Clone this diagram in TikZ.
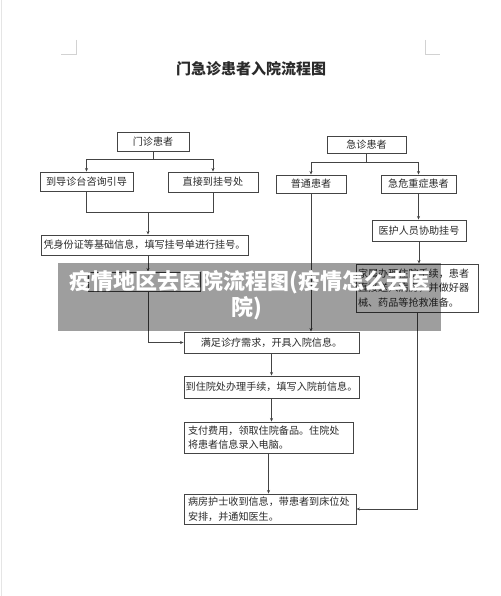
\documentclass[tikz,border=0pt]{standalone}
\usepackage{fontspec}
\setmainfont{Noto Sans CJK SC}
\usetikzlibrary{arrows.meta}
\definecolor{lineC}{HTML}{444444}
\definecolor{txtC}{HTML}{2A2A2A}
\begin{document}
\begin{tikzpicture}[x=1pt,y=-1pt,
  flowbox/.style={draw=lineC, line width=0.9pt, fill=white, text=txtC, inner sep=0pt,
    font=\fontsize{10.1}{14.5}\selectfont},
  arr/.style={draw=lineC, line width=0.8pt, -{Stealth[length=3.5pt,width=3pt]}},
  ln/.style={draw=lineC, line width=0.8pt}]
\useasboundingbox (0,0) rectangle (500,596);
\fill[white] (0,0) rectangle (500,596);
\draw[gray!20, line width=1pt] (1,0) -- (1,596);
% corner marks
\draw[gray!35, line width=0.8pt] (76,40) -- (76,54) -- (61,54);
\draw[gray!35, line width=0.8pt] (425,40) -- (425,54) -- (440,54);
% title
\node[text=txtC, font=\fontsize{15}{15}\selectfont\bfseries] (title) at (251,69) {门急诊患者入院流程图};
% boxes
\node[flowbox, minimum width=72, minimum height=19] (mz) at (153,141.5) {门诊患者};
\node[flowbox, minimum width=93, minimum height=19] (dz) at (86.5,181.5) {到导诊台咨询引导};
\node[flowbox, minimum width=90, minimum height=20] (zj) at (213,182) {直接到挂号处};
\node[flowbox, minimum width=207, minimum height=20] (pz) at (144.5,245) {凭身份证等基础信息，填写挂号单进行挂号。};
\node[flowbox, minimum width=112, minimum height=19] (hb) at (144,281.5) {};
\node[flowbox, minimum width=79, minimum height=17] (jz) at (366.5,144.5) {急诊患者};
\node[flowbox, minimum width=70, minimum height=18] (pt) at (311,184) {普通患者};
\node[flowbox, minimum width=75, minimum height=18] (wz) at (418.5,184) {急危重症患者};
\node[flowbox, minimum width=94, minimum height=21] (yh) at (419,230.5) {医护人员协助挂号};
\node[flowbox, minimum width=122, minimum height=48, text width=118, align=left] (js) at (417,288)
  {家属办理住院手续，患者\\直接送入病房，并做好器\\械、药品等抢救准备。};
\node[flowbox, minimum width=175, minimum height=21] (mq) at (271.5,342.5) {满足诊疗需求，开具入院信息。};
\node[flowbox, minimum width=175, minimum height=22] (zy) at (271.5,387) {到住院处办理手续，填写入院前信息。};
\node[flowbox, minimum width=169, minimum height=31, text width=161, align=left] (zf) at (268.5,437.5)
  {支付费用，领取住院备品。住院处\\将患者信息录入电脑。};
\node[flowbox, minimum width=172, minimum height=30, text width=164, align=left] (bf) at (270,509)
  {病房护士收到信息，带患者到床位处\\安排，并通知医生。};
% connectors left
\coordinate (tr) at (148,212);
\draw[arr] (mz.south) -- ++(0,8) -| (dz.north);
\draw[arr] (mz.south) -- ++(0,8) -| (zj.north);
\draw[ln] (dz.south) -- (dz.south |- tr) -| (zj.south);
\draw[arr] (tr) -- (tr |- pz.north);
\draw[arr] (tr |- pz.south) -- (tr |- hb.north);
\draw[arr] (tr |- hb.south) |- (mq.west);
% connectors right
\draw[arr] (jz.south) -- ++(0,9) -| (pt.north);
\draw[arr] (jz.south) -- ++(0,9) -| (wz.north);
\draw[arr] (wz.south) -- (wz.south |- yh.north);
\draw[arr] (yh.south) -- (yh.south |- js.north);
\draw[arr] (pt.south) -- (pt.south |- mq.north);
\draw[arr] (js.south) |- (bf.east);
% centre column
\draw[arr] (mq.south) -- (mq.south |- zy.north);
\draw[arr] (zy.south) -- (zy.south |- zf.north);
\draw[arr] (zf.south) -- (zf.south |- bf.north);
% banner overlay
\node[fill=black, fill opacity=0.38, minimum width=383, minimum height=68, inner sep=0pt] (ban) at (249.5,297) {};
\node[text=white, font=\fontsize{22}{22}\selectfont\bfseries, inner sep=0pt] (bt1) at (250,282) {疫情地区去医院流程图(疫情怎么去医};
\node[text=white, font=\fontsize{22}{22}\selectfont\bfseries, inner sep=0pt] (bt2) at (247,308) {院)};
\end{tikzpicture}
\end{document}
